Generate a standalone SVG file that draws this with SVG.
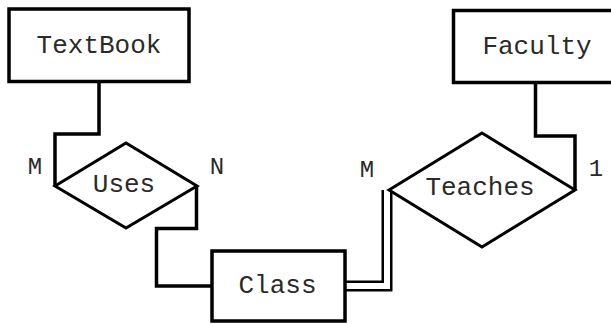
<svg xmlns="http://www.w3.org/2000/svg" width="611" height="324" viewBox="0 0 611 324">
  <style>
    .entity { fill: #ffffff; stroke: #000000; stroke-width: 3.5; }
    .rel { fill: #ffffff; stroke: #000000; stroke-width: 3; stroke-linejoin: miter; }
    .link { fill: none; stroke: #000000; stroke-width: 3.5; stroke-linejoin: miter; }
    .dbl-outer { fill: none; stroke: #000000; stroke-width: 11; stroke-linejoin: miter; }
    .dbl-inner { fill: none; stroke: #ffffff; stroke-width: 6; stroke-linejoin: miter; }
    .name { font-family: "Liberation Mono", "Courier New", monospace; font-size: 26px; fill: #2a2a2a; text-anchor: middle; }
    .card { font-family: "Liberation Mono", "Courier New", monospace; font-size: 24px; fill: #2a2a2a; text-anchor: middle; }
  </style>
  <rect width="611" height="324" fill="#ffffff"/>

  <!-- connectors -->
  <g id="connectors">
    <path class="link" d="M99,82 V134 H55 V186"/>
    <path class="link" d="M196.5,186 V228.5 H156.5 V286 H212"/>
    <path class="link" d="M535.5,83 V136 H575 V190"/>
    <path class="dbl-outer" d="M345,286 H387 V190"/>
    <path class="dbl-inner" d="M345,286 H387 V190"/>
  </g>

  <!-- entities -->
  <g id="textbook">
    <rect class="entity" x="9" y="9" width="180" height="72.5"/>
    <text class="name" x="99" y="53">TextBook</text>
  </g>
  <g id="faculty">
    <rect class="entity" x="453.5" y="10.5" width="170" height="72"/>
    <text class="name" x="537" y="54">Faculty</text>
  </g>
  <g id="class">
    <rect class="entity" x="212" y="251" width="133" height="70"/>
    <text class="name" x="277.5" y="293">Class</text>
  </g>

  <!-- relationships -->
  <g id="uses">
    <polygon class="rel" points="55,186 126,143 197,186 126,228"/>
    <text class="name" x="124" y="192">Uses</text>
    <text class="card" x="35" y="174">M</text>
    <text class="card" x="217" y="174">N</text>
  </g>
  <g id="teaches">
    <polygon class="rel" points="389,190 482,133 575,190 482,247"/>
    <text class="name" x="480" y="195">Teaches</text>
    <text class="card" x="367" y="177">M</text>
    <text class="card" x="596" y="176">1</text>
  </g>
</svg>
